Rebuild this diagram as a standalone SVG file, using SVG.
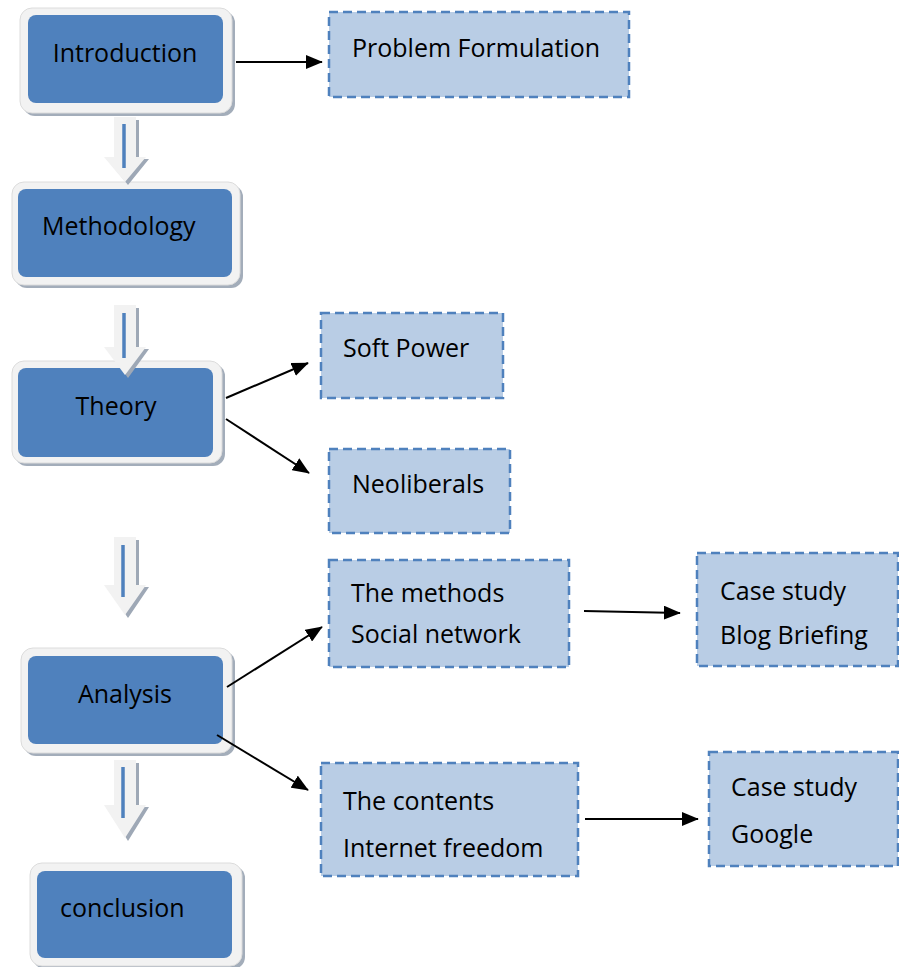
<svg xmlns="http://www.w3.org/2000/svg" width="899" height="967" viewBox="0 0 899 967">
<defs>
<style>
.frame{fill:#f2f2f2;stroke:#dcdcdc;stroke-width:1}
.fshadow{fill:#a3adba}
.blue{fill:#4f81bd}
.dash{fill:#b9cde5;stroke:#4f81bd;stroke-width:2.5;stroke-dasharray:9,5}
.t{font-family:"Open Sans","Liberation Sans",sans-serif;font-size:25px;fill:#000}
.conn{stroke:#000;stroke-width:2;fill:none;marker-end:url(#ah)}
.barrow{fill:#f2f2f2}
.bshadow{fill:#9ea8b6}
.bline{stroke:#4f81bd;stroke-width:3.5}
</style>
<marker id="ah" viewBox="0 0 10 10" refX="9.5" refY="5" markerWidth="17" markerHeight="14" markerUnits="userSpaceOnUse" orient="auto" preserveAspectRatio="none">
<path d="M0,0 L10,5 L0,10 Z" fill="#000"/>
</marker>
</defs>
<rect width="899" height="967" fill="#fff"/>

<g id="introduction">
<rect class="fshadow" x="23" y="11" width="212" height="105" rx="12"/>
<rect class="frame" x="20" y="8" width="212" height="105" rx="12"/>
<rect class="blue" x="28" y="15" width="195" height="88" rx="8"/>
<text class="t" x="125" y="62" text-anchor="middle">Introduction</text>
</g>

<g id="methodology">
<rect class="fshadow" x="15" y="185" width="228" height="103" rx="12"/>
<rect class="frame" x="12" y="182" width="228" height="103" rx="12"/>
<rect class="blue" x="18" y="189" width="214" height="88" rx="8"/>
<text class="t" x="42" y="235">Methodology</text>
</g>

<g id="theory">
<rect class="fshadow" x="15" y="364" width="210" height="102" rx="12"/>
<rect class="frame" x="12" y="361" width="210" height="102" rx="12"/>
<rect class="blue" x="18" y="368" width="195" height="89" rx="8"/>
<text class="t" x="116" y="415" text-anchor="middle">Theory</text>
</g>

<g id="analysis">
<rect class="fshadow" x="24" y="651" width="211" height="105" rx="12"/>
<rect class="frame" x="21" y="648" width="211" height="105" rx="12"/>
<rect class="blue" x="28" y="656" width="195" height="88" rx="8"/>
<text class="t" x="125" y="703" text-anchor="middle">Analysis</text>
</g>

<g id="conclusion">
<rect class="fshadow" x="33" y="866" width="212" height="103" rx="12"/>
<rect class="frame" x="30" y="863" width="212" height="103" rx="12"/>
<rect class="blue" x="37" y="871" width="195" height="87" rx="8"/>
<text class="t" x="60" y="917">conclusion</text>
</g>

<g id="problem-formulation">
<rect class="dash" x="329" y="12" width="300" height="85"/>
<text class="t" x="352" y="57">Problem Formulation</text>
</g>

<g id="soft-power">
<rect class="dash" x="321" y="313" width="182" height="85"/>
<text class="t" x="343" y="357">Soft Power</text>
</g>

<g id="neoliberals">
<rect class="dash" x="329" y="449" width="181" height="84"/>
<text class="t" x="352" y="493">Neoliberals</text>
</g>

<g id="methods">
<rect class="dash" x="329" y="560" width="240" height="107"/>
<text class="t" x="351" y="602">The methods</text>
<text class="t" x="351" y="643">Social network</text>
</g>

<g id="case-blog">
<rect class="dash" x="697" y="553" width="201" height="113"/>
<text class="t" x="720" y="600">Case study</text>
<text class="t" x="720" y="644">Blog Briefing</text>
</g>

<g id="contents">
<rect class="dash" x="321" y="763" width="257" height="113"/>
<text class="t" x="343" y="810">The contents</text>
<text class="t" x="343" y="857">Internet freedom</text>
</g>

<g id="case-google">
<rect class="dash" x="709" y="752" width="189" height="114"/>
<text class="t" x="731" y="796">Case study</text>
<text class="t" x="731" y="843">Google</text>
</g>

<g id="connectors">
<g id="flow-arrows">
<path class="bshadow" d="M117,120 L139,120 L139,159 L149,159 L128,185 L107,159 L117,159 Z"/>
<path class="barrow" d="M114,117 L136,117 L136,157 L146,157 L125,182 L104,157 L114,157 Z"/>
<line class="bline" x1="124" y1="124" x2="124" y2="168"/>

<path class="bshadow" d="M117,308 L139,308 L139,349 L149,349 L128,378 L107,349 L117,349 Z"/>
<path class="barrow" d="M114,305 L136,305 L136,347 L146,347 L125,375 L104,347 L114,347 Z"/>
<line class="bline" x1="124" y1="313" x2="124" y2="358"/>

<path class="bshadow" d="M117,540 L139,540 L139,587 L149,587 L128,618 L107,587 L117,587 Z"/>
<path class="barrow" d="M114,537 L136,537 L136,585 L146,585 L125,615 L104,585 L114,585 Z"/>
<line class="bline" x1="123" y1="545" x2="123" y2="597"/>

<path class="bshadow" d="M117,763 L139,763 L139,807 L149,807 L128,841 L107,807 L117,807 Z"/>
<path class="barrow" d="M114,760 L136,760 L136,805 L146,805 L125,838 L104,805 L114,805 Z"/>
<line class="bline" x1="123" y1="767" x2="123" y2="818"/>
</g>
<line class="conn" x1="236" y1="62" x2="322" y2="62"/>
<line class="conn" x1="226" y1="398" x2="308" y2="363"/>
<line class="conn" x1="226" y1="419" x2="309" y2="473"/>
<line class="conn" x1="227" y1="687" x2="322" y2="627"/>
<line class="conn" x1="217" y1="735" x2="308" y2="790"/>
<line class="conn" x1="584" y1="611" x2="680" y2="613"/>
<line class="conn" x1="585" y1="819" x2="698" y2="819"/>
</g>
</svg>
